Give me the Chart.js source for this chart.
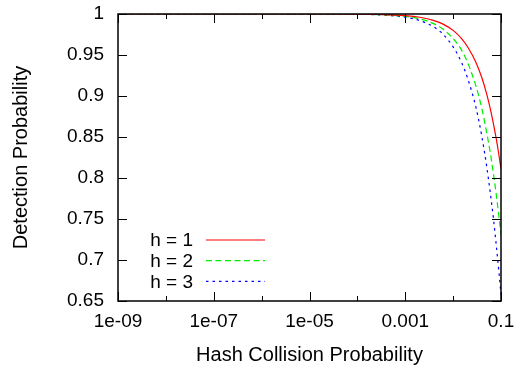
<!DOCTYPE html>
<html lang="en">
<head>
    <meta charset="UTF-8">
    <title>Detection Probability</title>
    <script src="https://cdn.jsdelivr.net/npm/chart.js"></script>
    <style>
        html, body { margin: 0; padding: 0; background: #fff; }
    </style>
</head>
<body>
    <div style="width: 515px; height: 367px;">
        <canvas id="myChart" width="515" height="367"></canvas>
    </div>

    <script>
        // values
        const collisionProb = [1e-9, 1e-8, 1e-7, 1e-6, 1e-5, 1e-4, 3e-4, 1e-3, 2e-3, 4e-3, 6e-3,
                               0.01, 0.015, 0.02, 0.03, 0.04, 0.05, 0.06, 0.07, 0.08, 0.09, 0.1];
        const detectH1 = [1, 1, 1, 1, 1, 0.9998, 0.9994, 0.998, 0.996, 0.992, 0.988,
                          0.980, 0.970, 0.960, 0.941, 0.922, 0.903, 0.884, 0.865, 0.847, 0.829, 0.811];
        const detectH2 = [1, 1, 1, 1, 1, 0.9997, 0.9991, 0.997, 0.994, 0.988, 0.982,
                          0.970, 0.956, 0.941, 0.912, 0.884, 0.856, 0.830, 0.804, 0.779, 0.754, 0.731];
        const detectH3 = [1, 1, 1, 1, 0.9999, 0.9996, 0.9988, 0.996, 0.992, 0.984, 0.976,
                          0.960, 0.941, 0.922, 0.886, 0.850, 0.815, 0.781, 0.749, 0.717, 0.687, 0.658];

        const seriesLabels = ['h = 1', 'h = 2', 'h = 3'];

        const xTickValues = [1e-9, 1e-7, 1e-5, 1e-3, 1e-1];
        const xTickLabels = ['1e-09', '1e-07', '1e-05', '0.001', '0.1'];
        const xMinorTicks = [1e-8, 1e-6, 1e-4, 1e-2];
        const yTickValues = [0.65, 0.7, 0.75, 0.8, 0.85, 0.9, 0.95, 1];
        const yTickLabels = ['0.65', '0.7', '0.75', '0.8', '0.85', '0.9', '0.95', '1'];

        const FONT = '"Liberation Sans", Arial, Helvetica, sans-serif';

        function points(ys) {
            return collisionProb.map((x, i) => ({ x: x, y: ys[i] }));
        }

        // gnuplot style frame: full border plus inward ticks on all four sides
        const framePlugin = {
            id: 'frame',
            afterDatasetsDraw(chart) {
                const ctx = chart.ctx;
                const a = chart.chartArea;
                const xs = chart.scales.x, ys = chart.scales.y;
                ctx.save();
                ctx.strokeStyle = '#000';
                ctx.lineWidth = 1;
                ctx.beginPath();
                xTickValues.forEach(v => {
                    const px = Math.round(xs.getPixelForValue(v)) + 0.5;
                    ctx.moveTo(px, a.bottom); ctx.lineTo(px, a.bottom - 9);
                    ctx.moveTo(px, a.top); ctx.lineTo(px, a.top + 9);
                });
                xMinorTicks.forEach(v => {
                    const px = Math.round(xs.getPixelForValue(v)) + 0.5;
                    ctx.moveTo(px, a.bottom); ctx.lineTo(px, a.bottom - 5);
                    ctx.moveTo(px, a.top); ctx.lineTo(px, a.top + 5);
                });
                yTickValues.forEach(v => {
                    const py = Math.round(ys.getPixelForValue(v)) + 0.5;
                    ctx.moveTo(a.left, py); ctx.lineTo(a.left + 9, py);
                    ctx.moveTo(a.right, py); ctx.lineTo(a.right - 9, py);
                });
                ctx.stroke();
                ctx.lineWidth = 1.5;
                ctx.strokeRect(a.left, a.top, a.right - a.left, a.bottom - a.top);
                ctx.restore();
            }
        };

        // key in the lower left: text first, sample line after it
        const keyPlugin = {
            id: 'key',
            afterDatasetsDraw(chart) {
                const ctx = chart.ctx;
                const a = chart.chartArea;
                ctx.save();
                ctx.font = '19px ' + FONT;
                ctx.textAlign = 'right';
                ctx.textBaseline = 'middle';
                chart.data.datasets.forEach((ds, i) => {
                    const y = a.bottom - 61 + i * 20.7;
                    ctx.fillStyle = '#000';
                    ctx.fillText(ds.label, a.left + 75, y + 1);
                    ctx.strokeStyle = ds.borderColor;
                    ctx.lineWidth = ds.borderWidth;
                    ctx.setLineDash(ds.borderDash || []);
                    ctx.beginPath();
                    ctx.moveTo(a.left + 88, y);
                    ctx.lineTo(a.left + 147, y);
                    ctx.stroke();
                });
                ctx.restore();
            }
        };

        Chart.defaults.color = '#000';
        Chart.defaults.font.family = FONT;

        const ctx = document.getElementById('myChart').getContext('2d');
        new Chart(ctx, {
            type: 'line',
            data: {
                datasets: [{
                    label: seriesLabels[0],
                    data: points(detectH1),
                    borderColor: '#ff0000',
                    borderWidth: 1.2,
                    borderDash: [],
                }, {
                    label: seriesLabels[1],
                    data: points(detectH2),
                    borderColor: '#00ee00',
                    borderWidth: 1.2,
                    borderDash: [6, 3.5],
                }, {
                    label: seriesLabels[2],
                    data: points(detectH3),
                    borderColor: '#0000ff',
                    borderWidth: 1.2,
                    borderDash: [2.5, 4],
                }]
            },
            options: {
                responsive: false,
                animation: false,
                events: [],
                cubicInterpolationMode: 'monotone',
                pointRadius: 0,
                fill: false,
                layout: { padding: { left: 0, top: 14, right: 14, bottom: 0 } },
                plugins: {
                    legend: { display: false },
                    tooltip: { enabled: false }
                },
                scales: {
                    x: {
                        type: 'logarithmic',
                        min: 1e-9,
                        max: 0.1,
                        grid: { display: false, drawTicks: false },
                        border: { display: false },
                        afterBuildTicks: s => { s.ticks = xTickValues.map(v => ({ value: v })); },
                        afterFit: s => {
                            s.height = 66;
                            s.paddingLeft = 0; s.paddingRight = 0;
                        },
                        ticks: {
                            autoSkip: false,
                            maxRotation: 0,
                            padding: 9,
                            font: { size: 19 },
                            callback: (v, i) => xTickLabels[i]
                        },
                        title: {
                            display: true,
                            text: 'Hash Collision Probability',
                            font: { size: 20 },
                            padding: { top: 0, bottom: 0 }
                        }
                    },
                    y: {
                        min: 0.65,
                        max: 1,
                        grid: { display: false, drawTicks: false },
                        border: { display: false },
                        afterBuildTicks: s => { s.ticks = yTickValues.map(v => ({ value: v })); },
                        afterFit: s => {
                            s.width = 118;
                            s.paddingTop = 0; s.paddingBottom = 0;
                        },
                        ticks: {
                            autoSkip: false,
                            padding: 14,
                            font: { size: 19 },
                            callback: (v, i) => yTickLabels[i]
                        },
                        title: {
                            display: true,
                            text: 'Detection Probability',
                            font: { size: 20 },
                            padding: { top: 9, bottom: 0 }
                        }
                    }
                }
            },
            plugins: [framePlugin, keyPlugin]
        });
    </script>
</body>
</html>
